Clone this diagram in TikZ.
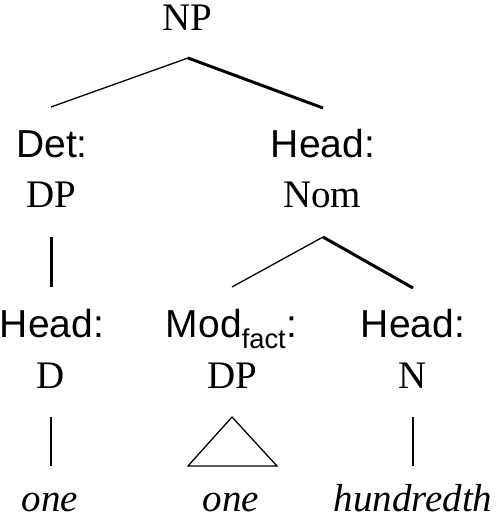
\documentclass[tikz,border=0pt]{standalone}
\usepackage{fontspec}
\setmainfont{Liberation Serif}
\setsansfont{Liberation Sans}
\usetikzlibrary{calc, positioning}

\begin{document}
\begin{tikzpicture}[x=1pt, y=-1pt,
        cat/.style={inner sep=0pt, anchor=base, font=\fontsize{39}{39}\selectfont},
        func/.style={inner sep=0pt, anchor=base, font=\fontsize{39}{39}\selectfont\sffamily},
        word/.style={inner sep=0pt, anchor=base, font=\fontsize{39}{39}\selectfont\itshape},
        light/.style={draw, line width=1.3pt},
        heavy/.style={draw, line width=3pt}]

        \useasboundingbox (0,0) rectangle (500,517);

        \node [cat] (np) at (187,30) {NP};

        \node [func] (f1) at (52,157) {Det:};
        \node [cat] (dp1) at (51,207) {DP};
        \node [func] (f2) at (323,157) {Head:};
        \node [cat] (nom) at (322,207) {Nom};

        \node [func] (f3) at (52,337) {Head:};
        \node [cat] (d) at (51,388) {D};
        \node [func] (f4) at (231.5,337) {Mod\textsubscript{fact}:};
        \node [cat] (dp2) at (232,388) {DP};
        \node [func] (f5) at (413,337) {Head:};
        \node [cat] (n) at (413,388) {N};

        \node [word] (w1) at (50,511) {one};
        \node [word] (w2) at (231,511) {one};
        \node [word] (w3) at (413,511) {hundredth};

        \path [light] ($(np.base)+(1,28)$) -- ($(f1.base)+(-1,-50)$);
        \path [heavy] ($(np.base)+(1,28)$) -- ($(f2.base)+(0,-49)$);
        \path [heavy] ($(dp1.base)+(0,30)$) -- ($(f3.base)+(-1,-50)$);
        \path [light] ($(nom.base)+(1,30)$) -- ($(f4.base)+(0.5,-50)$);
        \path [heavy] ($(nom.base)+(1,30)$) -- ($(f5.base)+(0,-49)$);

        \path [light] ($(d.base)+(0,29)$) -- ($(w1.base)+(1,-45)$);
        \path [light, line join=miter] ($(dp2.base)+(0,29)$) -- ($(w2.base)+(-43,-45)$)
            -- ($(w2.base)+(46,-45)$) -- cycle;
        \path [light] ($(n.base)+(0,29)$) -- ($(w3.base)+(0,-45)$);
    \end{tikzpicture}
\end{document}
